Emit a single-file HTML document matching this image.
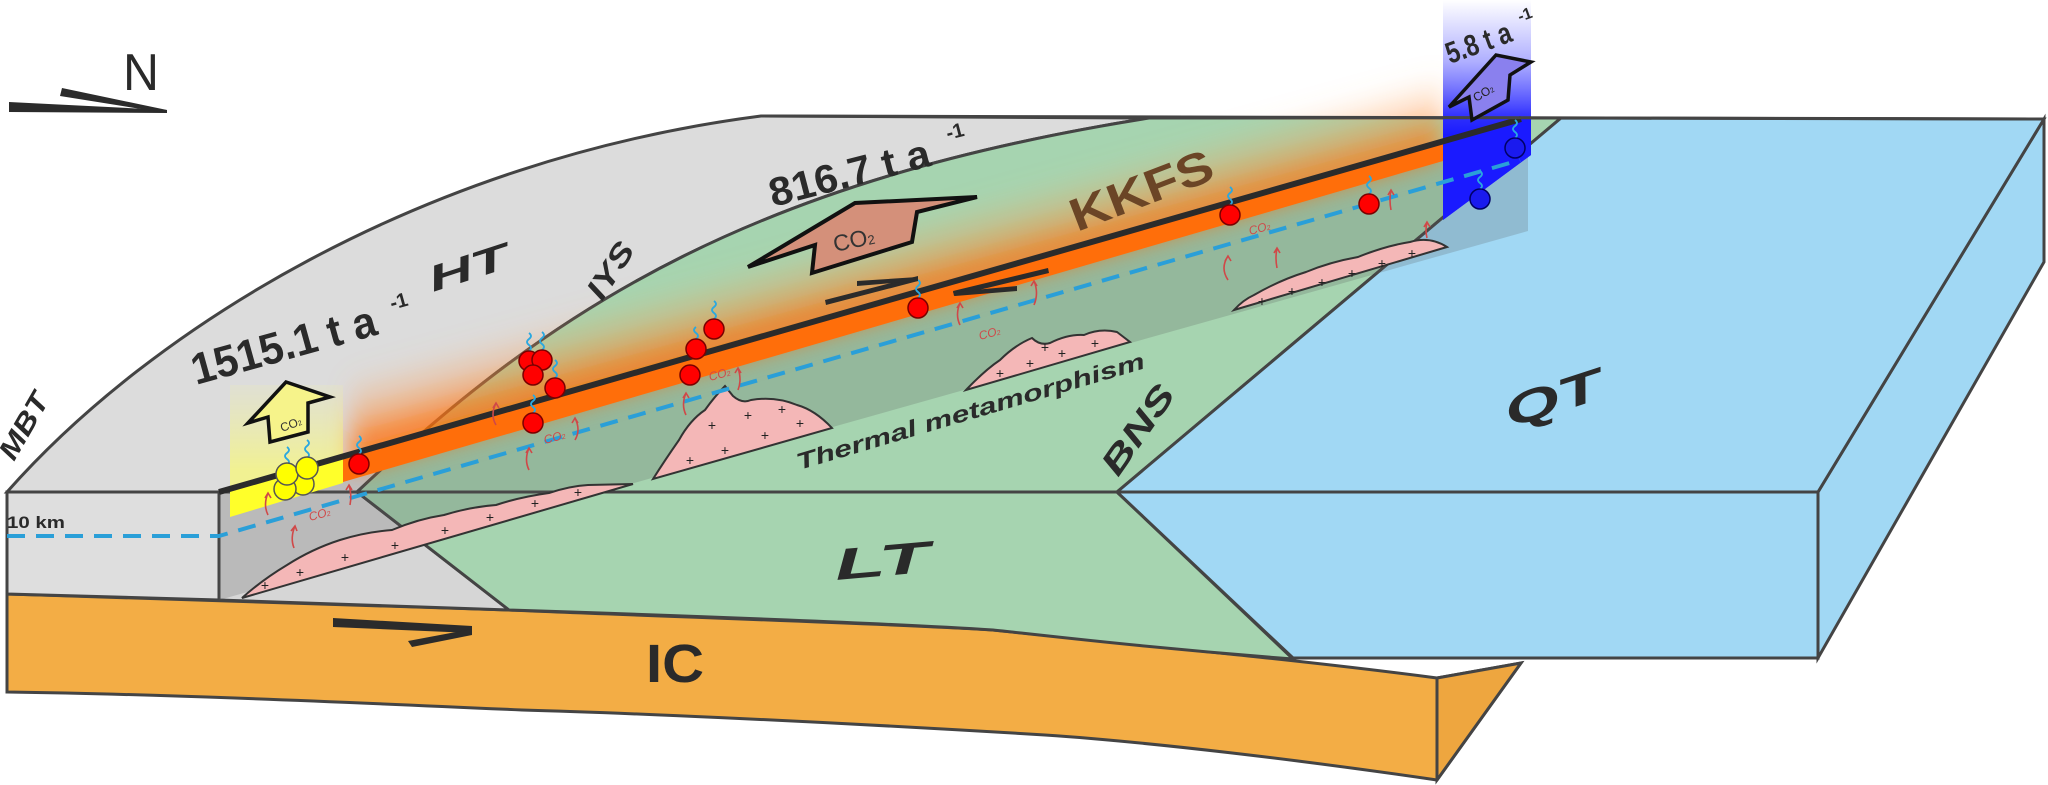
<!DOCTYPE html>
<html><head><meta charset="utf-8">
<style>html,body{margin:0;padding:0;background:#fff}svg{display:block}</style>
</head><body>
<svg width="2048" height="785" viewBox="0 0 2048 785" xmlns="http://www.w3.org/2000/svg" font-family="Liberation Sans, sans-serif">
<defs>
<linearGradient id="glow" gradientUnits="userSpaceOnUse" x1="800" y1="325" x2="775" y2="235">
<stop offset="0" stop-color="#ff6a00" stop-opacity="0.85"/>
<stop offset="0.35" stop-color="#ff8a30" stop-opacity="0.4"/>
<stop offset="0.8" stop-color="#ffb070" stop-opacity="0"/>
</linearGradient>
<filter id="blur" x="-20%" y="-50%" width="140%" height="200%"><feGaussianBlur stdDeviation="12"/></filter>
<linearGradient id="blueg" gradientUnits="userSpaceOnUse" x1="0" y1="0" x2="0" y2="135">
<stop offset="0" stop-color="#5050ff" stop-opacity="0"/>
<stop offset="0.45" stop-color="#5050ff" stop-opacity="0.45"/>
<stop offset="0.85" stop-color="#2a2aff" stop-opacity="0.95"/>
<stop offset="1" stop-color="#1a1aff" stop-opacity="1"/>
</linearGradient>
<linearGradient id="yelg" gradientUnits="userSpaceOnUse" x1="0" y1="385" x2="0" y2="470">
<stop offset="0" stop-color="#ffff80" stop-opacity="0.1"/>
<stop offset="1" stop-color="#ffff60" stop-opacity="0.6"/>
</linearGradient>
</defs>

<!-- IC layer -->
<path d="M7,594 C200,600 400,606 509,610 C700,618 900,624 993,630 C1150,646 1300,660 1437,678 L1521,663 L1437,780 C1300,760 1150,742 1045,735 C800,720 600,712 522,710 C300,700 150,694 7,692 Z" fill="#f3ad45" stroke="#444" stroke-width="3"/>
<path d="M1437,678 L1521,663 L1437,780 Z" fill="#eea63f" stroke="#444" stroke-width="3"/>
<line x1="1437" y1="678" x2="1437" y2="780" stroke="#444" stroke-width="3"/>

<!-- front faces -->
<polygon points="7,492 219,492 219,600 7,594" fill="#dedede" stroke="#444" stroke-width="3"/>
<path d="M219,492 L357,492 L509,610 C400,606 300,602 219,600 Z" fill="#d6d6d6" stroke="#444" stroke-width="3"/>
<path d="M357,492 L1117,492 L1293,659 C1150,648 1050,636 993,630 C900,624 700,616 509,610 Z" fill="#a6d4b0" stroke="#444" stroke-width="3"/>

<!-- top surfaces -->
<path d="M7,492 C150,330 420,160 761,116 L1149,118 C760,180 560,300 357,492 Z" fill="#dcdcdc" stroke="#444" stroke-width="3"/>
<path d="M357,492 C560,300 760,180 1149,118 L1561,118 L1117,492 Z" fill="#a6d4b0" stroke="#444" stroke-width="3"/>

<!-- QT block -->
<polygon points="1117,492 1818,492 1818,658 1293,658" fill="#a1d8f4" stroke="#444" stroke-width="3"/>
<polygon points="1818,492 2044,119 2044,262 1818,658" fill="#a1d8f4" stroke="#444" stroke-width="3"/>
<polygon points="1561,118 2044,119 1818,492 1117,492" fill="#a1d8f4" stroke="#444" stroke-width="3"/>

<!-- fault plane -->
<polygon points="219,492 1528,117 1528,231 219,600" fill="#555" fill-opacity="0.22"/>

<!-- glows -->
<polygon points="350,470 1443,155 1443,50 350,370" fill="url(#glow)" filter="url(#blur)"/>
<polygon points="230,385 343,385 343,457 230,489" fill="url(#yelg)"/>
<polygon points="230,489 343,457 343,483 230,517" fill="#ffff2a"/>
<polygon points="343,457 1443,141 1443,161 343,482" fill="#ff6e0a"/>
<polygon points="1443,0 1531,0 1531,155 1443,220" fill="url(#blueg)"/>
<polygon points="1443,141 1531,116 1531,155 1443,220" fill="#1a1aff"/>

<!-- plutons -->
<g fill="#f4b7b7" stroke="#333" stroke-width="2">
<path d="M242,598 L633,484 L588,485 Q570,486 549,493 Q520,497 496,505 Q470,507 444,515 Q418,519 392,530 Q365,532 340,540 Q312,549 287,565 Q262,580 242,598 Z"/>
<path d="M653,479 Q665,460 679,440 Q690,420 705,410 Q715,396 725,386 L733,396 Q742,404 751,400 Q775,396 797,405 Q815,410 832,428 Z"/>
<path d="M966,390 Q985,370 1000,360 Q1015,345 1032,338 Q1040,346 1050,343 Q1068,334 1084,335 Q1100,328 1117,332 L1130,342 Z"/>
<path d="M1234,310 Q1243,300 1254,295 Q1280,280 1306,272 Q1330,262 1358,257 Q1385,246 1410,242 Q1430,236 1447,247 Z"/>
</g>
<g font-size="14" fill="#222" text-anchor="middle">
<text x="300" y="577">+</text><text x="345" y="562">+</text><text x="395" y="550">+</text><text x="445" y="535">+</text><text x="490" y="522">+</text><text x="535" y="508">+</text><text x="578" y="497">+</text><text x="265" y="590">+</text>
<text x="690" y="465">+</text><text x="725" y="455">+</text><text x="765" y="440">+</text><text x="800" y="428">+</text><text x="712" y="430">+</text><text x="748" y="420">+</text><text x="782" y="414">+</text>
<text x="1000" y="378">+</text><text x="1030" y="368">+</text><text x="1062" y="358">+</text><text x="1095" y="348">+</text><text x="1045" y="352">+</text>
<text x="1262" y="306">+</text><text x="1292" y="296">+</text><text x="1322" y="287">+</text><text x="1352" y="278">+</text><text x="1382" y="268">+</text><text x="1412" y="258">+</text>
</g>

<!-- dashed 10 km line -->
<path d="M7,536 L219,536 L1520,160" fill="none" stroke="#2a9fd8" stroke-width="4" stroke-dasharray="18,11"/>

<!-- fault line -->
<line x1="219" y1="492" x2="1521" y2="119" stroke="#2b2b2b" stroke-width="6"/>
<line x1="761" y1="116" x2="2044" y2="119" stroke="#444" stroke-width="3"/>

<!-- red CO2 arrows -->
<g fill="none" stroke="#d04848" stroke-width="1.6">
<path d="M268,515 q-5,-10 0,-22 m-3,5 l3,-5 l3,5"/>
<path d="M350,505 q2,-10 -1,-20 m-3,5 l3,-5 l3,5"/>
<path d="M294,548 q-4,-10 1,-22 m-4,5 l4,-5 l2,5"/>
<path d="M496,425 q-6,-10 0,-22 m-3,5 l3,-5 l3,5"/>
<path d="M529,470 q-5,-10 0,-22 m-3,5 l3,-5 l3,5"/>
<path d="M575,440 q6,-10 0,-22 m-3,5 l3,-5 l3,5"/>
<path d="M686,415 q-5,-10 0,-22 m-3,5 l3,-5 l3,5"/>
<path d="M738,390 q4,-10 0,-22 m-3,5 l3,-5 l3,5"/>
<path d="M960,325 q-5,-10 0,-22 m-3,5 l3,-5 l3,5"/>
<path d="M1034,305 q5,-12 0,-24 m-3,5 l3,-5 l3,5"/>
<path d="M1228,280 q-8,-12 0,-24 m-3,5 l3,-5 l3,5"/>
<path d="M1277,268 q-2,-10 0,-20 m-3,5 l3,-5 l3,5"/>
<path d="M1391,210 q-2,-10 0,-20 m-3,5 l3,-5 l3,5"/>
<path d="M1427,238 q-2,-8 0,-16 m-3,5 l3,-5 l3,5"/>
</g>
<g font-size="12" fill="#d04848" font-style="italic">
<text x="310" y="521" transform="rotate(-15 310 521)">CO<tspan font-size="7">2</tspan></text>
<text x="545" y="444" transform="rotate(-15 545 444)">CO<tspan font-size="7">2</tspan></text>
<text x="710" y="381" transform="rotate(-15 710 381)">CO<tspan font-size="7">2</tspan></text>
<text x="980" y="340" transform="rotate(-15 980 340)">CO<tspan font-size="7">2</tspan></text>
<text x="1250" y="235" transform="rotate(-15 1250 235)">CO<tspan font-size="7">2</tspan></text>
</g>

<!-- squiggles -->
<g fill="none" stroke="#2aa8e0" stroke-width="1.8">
<path d="M359,454 q4,-3 0,-6 q-4,-3 0,-6 q4,-3 0,-6"/>
<path d="M529,351 q4,-3 0,-6 q-4,-3 0,-6 q4,-3 0,-6"/>
<path d="M542,350 q4,-3 0,-6 q-4,-3 0,-6 q4,-3 0,-6"/>
<path d="M555,378 q4,-3 0,-6 q-4,-3 0,-6 q4,-3 0,-6"/>
<path d="M533,413 q4,-3 0,-6 q-4,-3 0,-6 q4,-3 0,-6"/>
<path d="M714,319 q4,-3 0,-6 q-4,-3 0,-6 q4,-3 0,-6"/>
<path d="M696,339 q4,-3 0,-6 q-4,-3 0,-6"/>
<path d="M918,298 q4,-3 0,-6 q-4,-3 0,-6 q4,-3 0,-6"/>
<path d="M1230,205 q4,-3 0,-6 q-4,-3 0,-6 q4,-3 0,-6"/>
<path d="M1369,194 q4,-3 0,-6 q-4,-3 0,-6 q4,-3 0,-6"/>
<path d="M1515,138 q4,-3 0,-6 q-4,-3 0,-6 q4,-3 0,-6"/>
<path d="M1480,189 q4,-3 0,-6 q-4,-3 0,-6 q4,-3 0,-6"/>
<path d="M287,465 q4,-3 0,-6 q-4,-3 0,-6 q4,-3 0,-6"/>
<path d="M307,458 q4,-3 0,-6 q-4,-3 0,-6 q4,-3 0,-6"/>
</g>

<!-- dots -->
<g fill="#f00" stroke="#7a0000" stroke-width="1.5">
<circle cx="359" cy="464" r="10"/>
<circle cx="529" cy="361" r="10"/><circle cx="542" cy="360" r="10"/><circle cx="533" cy="375" r="10"/><circle cx="555" cy="388" r="10"/><circle cx="533" cy="423" r="10"/>
<circle cx="714" cy="329" r="10"/><circle cx="696" cy="349" r="10"/><circle cx="690" cy="375" r="10"/>
<circle cx="918" cy="308" r="10"/><circle cx="1230" cy="215" r="10"/><circle cx="1369" cy="204" r="10"/>
</g>
<g fill="#1a1aee" stroke="#000066" stroke-width="1.5">
<circle cx="1515" cy="148" r="10"/><circle cx="1480" cy="199" r="10"/>
</g>
<g fill="#ffff00" stroke="#555" stroke-width="1.5">
<circle cx="303" cy="484" r="11"/><circle cx="285" cy="489" r="11"/><circle cx="287" cy="474" r="11"/><circle cx="307" cy="468" r="11"/>
</g>

<!-- slip arrows -->
<g fill="#2b2b2b">
<polygon points="825,300 918,276 918,281 826,305"/>
<polygon points="857,281 918,277 918,281 857,286"/>
<polygon points="953,291 1048,268 1049,273 954,296"/>
<polygon points="953,292 1017,286 1017,291 955,296"/>
<polygon points="333,618 472,626 472,633 333,627"/>
<polygon points="472,629 472,635 412,647 408,641"/>
<polygon points="9,102 167,110 167,113 9,112"/>
<polygon points="62,88 167,110 160,112 60,96"/>
</g>

<!-- CO2 big arrows -->
<polygon points="748,267 855,203 977,197 917,212 912,242 812,273 815,245" fill="#d4907a" stroke="#111" stroke-width="4" stroke-linejoin="miter"/>
<text x="835" y="252" font-size="23" fill="#333" transform="rotate(-12 835 252)">CO<tspan font-size="13">2</tspan></text>
<polygon points="248,423 286,382 330,397 308,403 308,432 270,442 268,417" fill="#f6f38a" stroke="#111" stroke-width="3.5"/>
<text x="282" y="432" font-size="12" fill="#333" transform="rotate(-20 282 432)">CO<tspan font-size="7">2</tspan></text>
<polygon points="1449,107 1496,55 1531,62 1510,75 1508,100 1472,120 1469,97" fill="#8a80ee" stroke="#111" stroke-width="3.5"/>
<text x="1476" y="102" font-size="12" fill="#222" transform="rotate(-30 1476 102)">CO<tspan font-size="7">2</tspan></text>

<!-- labels -->
<g fill="#2a2a2a" font-weight="bold">
<text x="123" y="90" font-size="52" font-weight="normal" textLength="36" lengthAdjust="spacingAndGlyphs">N</text>
<text x="196" y="385" font-size="44" textLength="190" lengthAdjust="spacingAndGlyphs" transform="rotate(-15.5 196 385)">1515.1 t a</text>
<text x="392" y="310" font-size="20" transform="rotate(-15.5 392 310)">-1</text>
<text x="773" y="207" font-size="40" textLength="165" lengthAdjust="spacingAndGlyphs" transform="rotate(-14.6 773 207)">816.7 t a</text>
<text x="948" y="140" font-size="20" transform="rotate(-14.6 948 140)">-1</text>
<text x="1450" y="64" font-size="30" textLength="68" lengthAdjust="spacingAndGlyphs" transform="rotate(-20 1450 64)">5.8 t a</text>
<text x="1520" y="22" font-size="16" transform="rotate(-20 1520 22)">-1</text>
<text x="1077" y="232" font-size="46" fill="#6b4526" textLength="150" lengthAdjust="spacingAndGlyphs" transform="rotate(-21 1077 232)">KKFS</text>
<g font-style="italic">
<text x="433" y="292" font-size="36" textLength="82" lengthAdjust="spacingAndGlyphs" transform="rotate(-18 433 292)">HT</text>
<text x="602" y="302" font-size="30" textLength="62" lengthAdjust="spacingAndGlyphs" transform="rotate(-57 602 302)">IYS</text>
<text x="14" y="462" font-size="28" textLength="72" lengthAdjust="spacingAndGlyphs" transform="rotate(-60 14 462)">MBT</text>
<text x="799" y="470" font-size="23" textLength="362" lengthAdjust="spacingAndGlyphs" transform="rotate(-16.4 799 470)">Thermal metamorphism</text>
<text x="1118" y="478" font-size="34" textLength="102" lengthAdjust="spacingAndGlyphs" transform="rotate(-55 1118 478)">BNS</text>
<text x="1510" y="428" font-size="44" textLength="100" lengthAdjust="spacingAndGlyphs" transform="rotate(-18 1510 428)">QT</text>
<text x="836" y="580" font-size="44" textLength="95" lengthAdjust="spacingAndGlyphs" transform="rotate(-5 836 580)">LT</text>
</g>
<text x="646" y="682" font-size="54" textLength="58" lengthAdjust="spacingAndGlyphs">IC</text>
<text x="7" y="528" font-size="17" textLength="58" lengthAdjust="spacingAndGlyphs">10 km</text>
</g>
</svg>
</body></html>
